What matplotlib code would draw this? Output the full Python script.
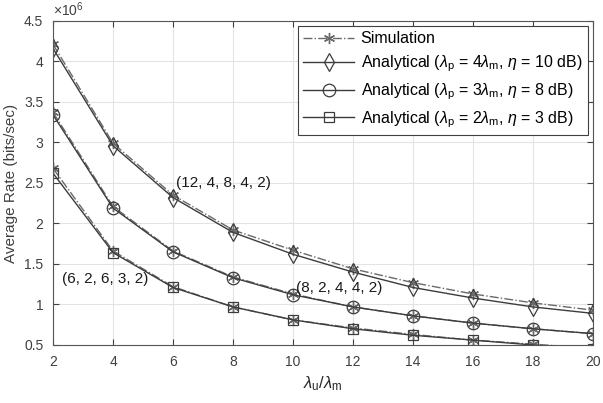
import matplotlib.pyplot as plt

plt.rcParams['font.family'] = ['Liberation Sans', 'DejaVu Sans']
plt.rcParams['mathtext.fontset'] = 'custom'
plt.rcParams['mathtext.rm'] = 'Liberation Sans'
plt.rcParams['mathtext.it'] = 'Liberation Sans:italic'

# Daten (Einheit 1e6 bits/sec)
x_ratio = [2, 4, 6, 8, 10, 12, 14, 16, 18, 20]
sim_a = [4.21, 2.99, 2.35, 1.92, 1.67, 1.44, 1.27, 1.13, 1.02, 0.93]
ana_a = [4.16, 2.96, 2.32, 1.89, 1.62, 1.40, 1.21, 1.08, 0.97, 0.89]
sim_b = [3.37, 2.21, 1.66, 1.34, 1.13, 0.97, 0.86, 0.77, 0.70, 0.64]
ana_b = [3.34, 2.19, 1.65, 1.33, 1.12, 0.97, 0.86, 0.77, 0.70, 0.64]
sim_c = [2.68, 1.66, 1.22, 0.97, 0.81, 0.71, 0.63, 0.56, 0.51, 0.46]
ana_c = [2.62, 1.64, 1.21, 0.97, 0.81, 0.70, 0.62, 0.56, 0.50, 0.45]

labels = ['Analytical ($\\lambda_\\mathrm{p}$ = 4$\\lambda_\\mathrm{m}$, $\\eta$ = 10 dB)',
          'Analytical ($\\lambda_\\mathrm{p}$ = 3$\\lambda_\\mathrm{m}$, $\\eta$ = 8 dB)',
          'Analytical ($\\lambda_\\mathrm{p}$ = 2$\\lambda_\\mathrm{m}$, $\\eta$ = 3 dB)']

dark = '#3c3c3c'
sim_col = '#6a6a6a'
asterisk = (6, 2, 0)

fig = plt.figure(figsize=(6.03, 4.03), dpi=100)
ax = fig.add_axes([0.088, 0.144, 0.895, 0.804])

sc = 1e6
line_sim = None
for sim in [sim_a, sim_b, sim_c]:
    line_sim, = ax.plot(x_ratio, [v * sc for v in sim], linestyle='-.', color=sim_col,
                        marker=asterisk, markersize=8, markeredgewidth=1.0, linewidth=1.0)

handles = [line_sim]
for ana, mk, lab in zip([ana_a, ana_b, ana_c], ['d', 'o', 's'], labels):
    h, = ax.plot(x_ratio, [v * sc for v in ana], linestyle='-', color=dark, marker=mk,
                 markersize=9 if mk != 's' else 7.5, markerfacecolor='none',
                 markeredgecolor=dark, markeredgewidth=0.9, linewidth=1.0, label=lab)
    handles.append(h)

ax.set_xlim(2, 20)
ax.set_ylim(0.5e6, 4.5e6)
ax.set_xticks(range(2, 21, 2))
ax.set_yticks([0.5e6, 1e6, 1.5e6, 2e6, 2.5e6, 3e6, 3.5e6, 4e6, 4.5e6])
ax.set_yticklabels(['0.5', '1', '1.5', '2', '2.5', '3', '3.5', '4', '4.5'])
ax.text(0.0, 1.005, '$\\times10^{6}$', transform=ax.transAxes, fontsize=10,
        color='#404040', va='bottom', ha='left')

ax.grid(True, color='#e3e3e3', linewidth=0.8)
ax.set_axisbelow(True)
for s in ax.spines.values():
    s.set_color('#555555')
    s.set_linewidth(0.8)
ax.tick_params(direction='in', top=True, right=True, colors='#404040', labelsize=10,
               length=4, pad=7)

ax.set_xlabel('$\\lambda_\\mathrm{u}/\\lambda_\\mathrm{m}$', fontsize=12, color='#262626')
ax.set_ylabel('Average Rate (bits/sec)', fontsize=11, color='#404040')

ax.text(6.1, 2.45e6, '(12, 4, 8, 4, 2)', fontsize=11, color='#1a1a1a')
ax.text(2.3, 1.26e6, '(6, 2, 6, 3, 2)', fontsize=11, color='#1a1a1a')
ax.text(10.1, 1.15e6, '(8, 2, 4, 4, 2)', fontsize=11, color='#1a1a1a')

leg = ax.legend(handles, ['Simulation'] + labels, loc='upper right', fontsize=11.5,
                frameon=True, fancybox=False, edgecolor='#404040', framealpha=1,
                borderaxespad=0.3, handlelength=3.2, labelspacing=0.45,
                borderpad=0.35, handletextpad=0.4)
leg.get_frame().set_linewidth(0.8)

fig.savefig('out.png', dpi=100)
